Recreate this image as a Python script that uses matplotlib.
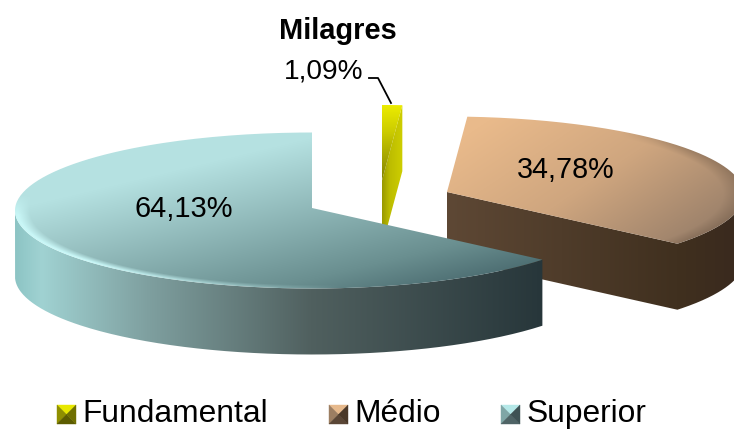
import numpy as np
import matplotlib
matplotlib.use("Agg")
import matplotlib.pyplot as plt
from matplotlib.patches import Polygon, PathPatch
from matplotlib.path import Path
from matplotlib.colors import to_rgb

plt.rcParams['font.family'] = ['Liberation Sans', 'DejaVu Sans']

titulo = "Milagres"
categorias = ["Fundamental", "Médio", "Superior"]
valores = [1.09, 34.78, 64.13]
etiquetas = ["1,09%", "34,78%", "64,13%"]

W, H = 734, 429
RX, RY = 297, 78   # elipse del pastel
DY = 2.5           # la elipse queda un poco mas abajo que el vertice (perspectiva)
ALTO = 66          # grosor del pastel
# vertice de cada rebanada (explotada)
centros = [(382, 180.5), (447, 192), (312, 208)]

# angulos acumulados en sentido horario desde las 12
acum = np.cumsum([0] + valores) / np.sum(valores) * 360

yy, xx = np.mgrid[0:H, 0:W] + 0.5


def rampa(t, pos, cols):
    rgb = np.array([to_rgb(c) for c in cols])
    return np.dstack([np.interp(t, pos, rgb[:, i]) for i in range(3)])


def arco(c, a0, a1, n=200):
    a = np.radians(np.linspace(a0, a1, n))
    return np.column_stack([c[0] + RX*np.sin(a), c[1] + DY - RY*np.cos(a)])


def pintar(ax, img, poli, z):
    im = ax.imshow(img, extent=(0, W, H, 0), zorder=z, interpolation='bilinear')
    parche = PathPatch(Path(np.vstack([poli, poli[0]])), transform=ax.transData,
                       fc='none', ec='none')
    ax.add_patch(parche)
    im.set_clip_path(parche)


def radio(c):
    return np.sqrt(((xx - c[0])/RX)**2 + ((yy - c[1] - DY)/RY)**2)


def mezcla(img, col, w):
    return img*(1 - w[..., None]) + np.array(to_rgb(col))*w[..., None]


fig = plt.figure(figsize=(W/100, H/100), dpi=100)
ax = fig.add_axes([0, 0, 1, 1])

# --- Fundamental
c = centros[0]
arc0 = arco(c, acum[0], acum[1], 20)
pared = np.vstack([[c], arc0[-1:], arc0[-1:] + [0, ALTO], [c[0], c[1] + ALTO]])
t = (401 - xx)/19
pintar(ax, rampa(t, [0, 0.6, 1], ['#cccc00', '#bcbc00', '#989800']), pared, 2)
tapa = np.vstack([[c], arc0])
t = (yy - 105)/76
pintar(ax, rampa(t, [0, 0.35, 1], ['#ecec00', '#cccc00', '#808000']), tapa, 3)

# --- Medio
c = centros[1]
arc1 = arco(c, acum[1], acum[2])
fin = arc1[-1]
frente = arco(c, 90, acum[2])
pared = np.vstack([[c[0], c[1]], fin, frente[::-1], frente + [0, ALTO],
                   fin + [0, ALTO], [c[0], c[1] + ALTO]])
t = (xx - 447)/287
pintar(ax, rampa(t, [0, 0.8, 1], ['#5e4835', '#40301f', '#3a2a1e']), pared, 4)
tapa = np.vstack([[c], arc1])
t = (xx - 447)/290*0.6 + (yy - 116)/130*0.4
img = rampa(t, [0.1, 0.5, 0.9], ['#e9ba8b', '#cfa67f', '#9a806a'])
borde = np.clip((radio(c) - 0.93)/0.07, 0, 1)*np.clip((xx - 620)/70, 0, 1)*0.45
img = mezcla(img, '#6e5845', borde)
pintar(ax, img, tapa, 5)

# --- Superior
c = centros[2]
arc2 = arco(c, acum[2], acum[3])
frente = arco(c, acum[2], 270)
pared = np.vstack([frente, frente[::-1] + [0, ALTO]])
t = (xx - 15)/528
pintar(ax, rampa(t, [0, 0.05, 0.25, 0.56, 1],
                 ['#8cc4c4', '#a0d2d2', '#7fa0a0', '#50605f', '#27363a']), pared, 6)
tapa = np.vstack([[c], arc2])
t = (xx - 15)/530*0.45 + (yy - 133)/155*0.55
img = rampa(t, [0.27, 0.77, 0.9, 1], ['#b5e1e1', '#6a8f90', '#4f7074', '#456266'])
# brillo del borde frontal izquierdo
luz = np.clip((radio(c) - 0.95)/0.04, 0, 1)*np.clip((yy - 195)/20, 0, 1)*np.clip((340 - xx)/250, 0, 1)
img = mezcla(img, '#c8f6f6', luz)
pintar(ax, img, tapa, 7)

# --- Textos
ax.text(337.5, 31, titulo, fontsize=20.9, fontweight='bold', ha='center', va='center', color='black', zorder=10)
ax.text(324, 71, etiquetas[0], fontsize=20.2, ha='center', va='center', color='black', zorder=10)
ax.text(566, 170, etiquetas[1], fontsize=20.7, ha='center', va='center', color='black', zorder=10)
ax.text(184, 209, etiquetas[2], fontsize=20.9, ha='center', va='center', color='black', zorder=10)
ax.plot([369, 378, 391], [78, 78, 103], color='black', lw=1.3, zorder=10)

# --- Leyenda
ley_x = [57, 329, 501]
# arriba, izquierda, abajo, derecha
ley_cols = [['#e8e800', '#8f8f00', '#5c5c00', '#6f6f00'],
            ['#e6b98c', '#9c7e62', '#5a4636', '#4a3828'],
            ['#b5e8e8', '#7fa6a6', '#4f6466', '#3e5254']]
for x0, cols, nombre in zip(ley_x, ley_cols, categorias):
    x1, y0, y1 = x0 + 19, 405, 424
    m = (x0 + 9.5, y0 + 9.5)
    for p, col in zip([[(x0, y0), (x1, y0)], [(x0, y0), (x0, y1)],
                       [(x0, y1), (x1, y1)], [(x1, y0), (x1, y1)]], cols):
        ax.add_patch(Polygon(p + [m], closed=True, fc=col, ec=col, lw=0.3, zorder=9))
    ax.text(x1 + 6.5, 422, nombre, fontsize=22.9, ha='left', va='baseline', color='black', zorder=10)

ax.set_xlim(0, W)
ax.set_ylim(H, 0)
ax.axis('off')
fig.savefig('out.png', dpi=100, facecolor='white')
